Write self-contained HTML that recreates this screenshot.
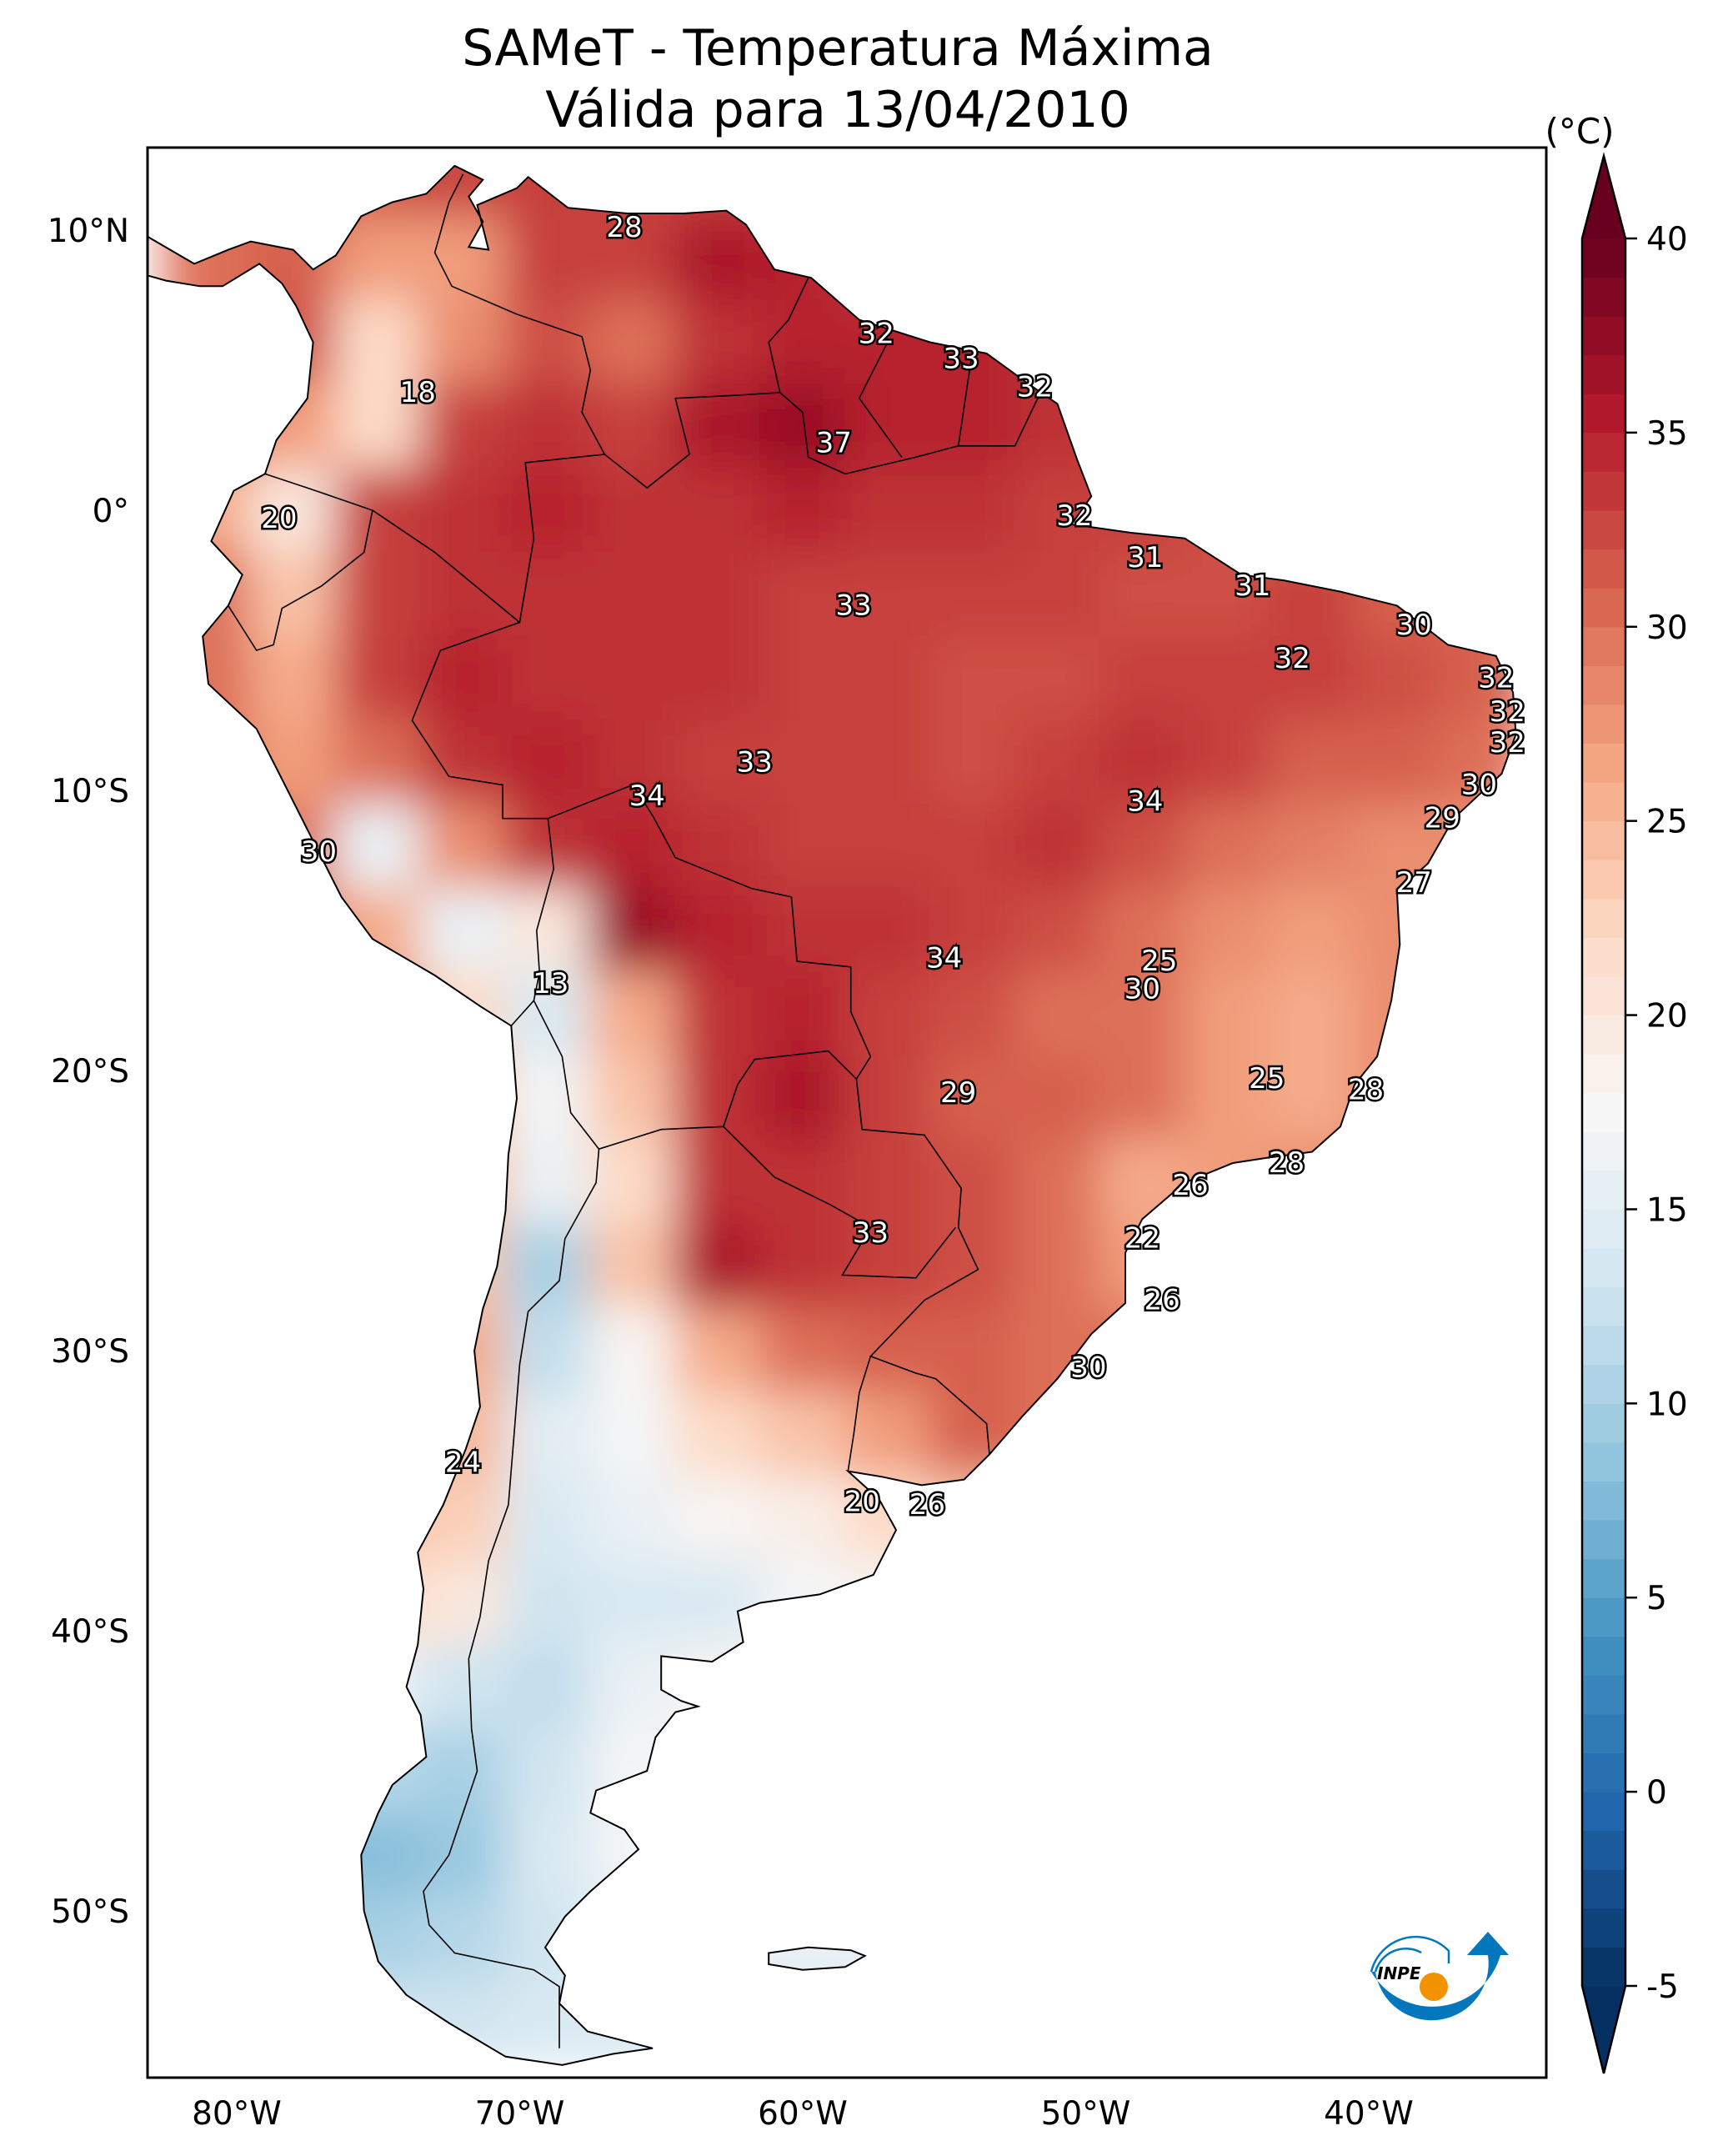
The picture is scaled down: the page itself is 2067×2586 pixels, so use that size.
<!DOCTYPE html>
<html><head><meta charset="utf-8"><style>
html,body{margin:0;padding:0;background:#fff}
svg{display:block}
text{font-family:"DejaVu Sans","Liberation Sans",sans-serif}
.lbl{font-size:34px;fill:#fff;stroke:#000;stroke-width:5px;paint-order:stroke;text-anchor:middle;dominant-baseline:central}
.tick{font-size:39px;fill:#000}
</style></head><body>
<svg id="chart" width="2067" height="2586" viewBox="0 0 2067 2586" xmlns="http://www.w3.org/2000/svg">
<defs>
<filter id="blur" x="-20%" y="-20%" width="140%" height="140%"><feGaussianBlur stdDeviation="28"/></filter>
<clipPath id="land"><path id="landPath" d=""/></clipPath>
<clipPath id="frame"><rect x="177" y="177" width="1678" height="2315"/></clipPath>
</defs>
<text x="1005" y="78" font-size="60" text-anchor="middle">SAMeT - Temperatura Máxima</text>
<text x="1005" y="152" font-size="60" text-anchor="middle">Válida para 13/04/2010</text>
<g id="mapArea" clip-path="url(#frame)">
  <g clip-path="url(#land)"><g id="heat" filter="url(#blur)"></g></g>
  <path id="coast" fill="none" stroke="#000" stroke-width="2"/>
  <g id="borders" fill="none" stroke="#000" stroke-width="1.6"></g>
  <g id="labels"></g>
</g>
<rect x="177" y="177" width="1678" height="2315" fill="none" stroke="#000" stroke-width="3"/>
<g id="axes"></g>
<g id="logo">
  <path d="M1645,2365 A85,85 0 0 0 1800,2345 L1785,2345 A65,65 0 0 1 1650,2365 Z" fill="#0277bd"/>
  <path d="M1760,2345 L1785,2317 L1810,2345 Z" fill="#0277bd"/>
  <path d="M1645,2365 A55,55 0 0 1 1738,2340 L1738,2355" fill="none" stroke="#0277bd" stroke-width="2.5"/>
  <path d="M1650,2365 A38,38 0 0 1 1705,2342" fill="none" stroke="#0277bd" stroke-width="2.5"/>
  <circle cx="1720" cy="2383" r="17" fill="#f39200"/>
  <text x="1652" y="2374" font-size="20" font-style="italic" font-weight="bold">INPE</text>
</g>
<g id="colorbar"></g>
<text x="1895" y="172" font-size="42" text-anchor="middle">(°C)</text>
</svg>
<script>
const lons=[-81,-78,-75,-72,-69,-66,-63,-60,-57,-54,-51,-48,-45,-42,-39,-36];
const lats=[12,9,6,3,0,-3,-6,-9,-12,-15,-18,-21,-24,-27,-30,-33,-36,-39,-42,-45,-48,-51,-54];
const temps=[
[30,30,32,33,33,33,33,33,33,33,33,33,33,33,33,33],
[30,31,27,27,33,33,36,35,33,33,33,33,33,33,33,33],
[30,32,22,28,32,30,34,35,35,35,34,33,33,33,33,33],
[30,27,22,33,34,33,36,37,35,35,34,33,33,33,33,33],
[26,20,33,34,35,34,34,35,34,34,33,33,32,31,31,31],
[30,24,33,34,34,34,34,33,33,33,33,32,32,33,31,31],
[30,26,33,35,34,34,34,33,33,32,32,33,33,33,32,31],
[30,27,30,34,35,34,33,33,33,32,33,34,33,31,31,30],
[30,30,16,28,34,35,34,33,33,33,34,32,30,29,28,28],
[30,30,26,16,20,37,35,34,34,33,32,30,28,27,28,28],
[28,28,28,22,14,26,34,35,33,32,30,30,27,26,28,28],
[26,26,26,24,17,24,34,36,33,31,31,30,27,26,28,28],
[25,25,25,25,16,22,34,34,33,32,30,26,27,28,28,28],
[25,25,25,24,10,24,36,34,33,32,30,27,27,27,27,27],
[26,26,26,26,12,18,26,30,31,31,30,30,30,30,30,30],
[25,25,25,25,15,17,22,24,27,31,30,30,30,30,30,30],
[24,24,24,23,14,16,18,19,22,24,24,24,24,24,24,24],
[22,22,22,20,13,14,14,17,18,18,18,18,18,18,18,18],
[16,16,16,13,12,16,18,18,18,18,18,18,18,18,18,18],
[11,11,11,10,13,17,17,17,17,17,17,17,17,17,17,17],
[8,8,8,9,14,17,17,17,17,17,17,17,17,17,17,17],
[10,10,10,11,13,16,16,16,16,16,16,16,16,16,16,16],
[13,13,13,13,14,14,14,14,14,14,14,14,14,14,14,14]];
const lonTicks=[-80,-70,-60,-50,-40];
const lonTickLabels=["80°W","70°W","60°W","50°W","40°W"];
const latTicks=[10,0,-10,-20,-30,-40,-50];
const latTickLabels=["10°N","0°","10°S","20°S","30°S","40°S","50°S"];
const cbTicks=[-5,0,5,10,15,20,25,30,35,40];
const labelVals=[28,32,33,32,18,37,20,32,31,33,31,30,32,32,32,32,33,34,34,30,29,30,27,25,34,30,13,25,28,29,28,26,33,22,26,30,24,20,26];
const labelLon=[-66.3,-57.4,-54.4,-51.8,-73.6,-58.9,-78.5,-50.4,-47.9,-58.2,-44.1,-38.4,-42.7,-35.5,-35.1,-35.1,-61.7,-65.5,-47.9,-36.1,-37.4,-77.1,-38.4,-47.4,-55,-48,-68.9,-43.6,-40.1,-54.5,-42.9,-46.3,-57.6,-48,-47.3,-49.9,-72,-57.9,-55.6];
const labelLat=[10.1,6.3,5.4,4.4,4.2,2.4,-0.3,-0.2,-1.7,-3.4,-2.7,-4.1,-5.3,-6,-7.2,-8.3,-9,-10.2,-10.4,-9.8,-11,-12.2,-13.3,-16.1,-16,-17.1,-16.9,-20.3,-20.7,-20.8,-23.3,-24.1,-25.8,-26,-28.2,-30.6,-34,-35.4,-35.5];
const coast=[[-83.2,9.8],[-81.5,8.8],[-80.3,9.3],[-79.5,9.6],[-78,9.3],[-77.3,8.6],[-76.5,9.1],[-75.6,10.5],[-74.5,11],[-73.3,11.3],[-72.3,12.3],[-71.3,11.8],[-71.8,11.2],[-71.3,10.3],[-71.8,9.4],[-71.1,9.3],[-71.5,10.9],[-70.1,11.5],[-69.7,11.9],[-68.3,10.8],[-66.2,10.6],[-64.2,10.6],[-62.7,10.7],[-62,10.2],[-61,8.6],[-59.7,8.3],[-58,6.8],[-55.5,6],[-53.5,5.6],[-52,4.5],[-51,3.8],[-50.3,1.8],[-49.8,0.5],[-50.5,-0.5],[-48.4,-0.8],[-46.5,-1],[-44.5,-2.3],[-43,-2.5],[-41,-2.9],[-39,-3.4],[-37.2,-4.8],[-35.5,-5.2],[-34.9,-6.5],[-34.8,-8],[-35.3,-9.4],[-37,-11],[-37.9,-12.6],[-39,-13.6],[-38.9,-15.5],[-39.2,-17.5],[-39.7,-19.5],[-40.5,-20.5],[-41,-22],[-42,-22.9],[-43.5,-23.1],[-44.8,-23.3],[-46.5,-24],[-48,-25.3],[-48.6,-26.5],[-48.6,-28.3],[-49.8,-29.4],[-51,-31],[-52.2,-32.3],[-53.4,-33.7],[-54.3,-34.6],[-55.8,-34.8],[-57.2,-34.5],[-58.4,-34.3],[-57.3,-35.3],[-56.7,-36.4],[-57.5,-38],[-59.4,-38.7],[-61.5,-39],[-62.3,-39.3],[-62.1,-40.4],[-63.2,-41.1],[-65,-40.9],[-65,-42.1],[-64.3,-42.5],[-63.7,-42.7],[-64.5,-42.9],[-65.2,-43.8],[-65.5,-45],[-67.3,-45.7],[-67.5,-46.5],[-66.3,-47.1],[-65.8,-47.8],[-67.5,-49.3],[-68.4,-50.2],[-69.1,-51.3],[-68.4,-52.3],[-68.6,-53.3],[-67.6,-54.3],[-65.3,-54.9],[-66.7,-55.1],[-68.5,-55.5],[-70.5,-55.2],[-72.5,-54],[-74,-53],[-75,-51.8],[-75.5,-50],[-75.6,-48],[-75,-46.5],[-74.5,-45.5],[-73.3,-44.5],[-73.5,-43],[-74,-42],[-73.6,-40.5],[-73.4,-38.5],[-73.6,-37.2],[-72.7,-35.5],[-71.9,-33.5],[-71.4,-32],[-71.6,-30],[-71.3,-28.5],[-70.8,-27],[-70.5,-25],[-70.4,-23],[-70.1,-21],[-70.3,-18.4],[-71.4,-17.7],[-73,-16.6],[-75.2,-15.3],[-76.3,-13.8],[-77.2,-12],[-78.2,-10],[-79.3,-7.8],[-81,-6.2],[-81.2,-4.5],[-80.3,-3.4],[-79.8,-2.3],[-80.9,-1.1],[-80.1,0.7],[-79,1.3],[-78.6,2.5],[-77.5,4],[-77.3,6],[-77.9,7.3],[-78.4,8.1],[-79.2,8.8],[-80.5,8],[-81.3,8],[-82.5,8.2],[-83.2,8.4]];
const falk=[[-61.2,-51.5],[-59.8,-51.3],[-58.3,-51.4],[-57.8,-51.6],[-58.5,-52],[-60,-52.1],[-61.2,-51.9]];
const borderLines=[
[[-51.6,4.2],[-52.5,2.3],[-54.5,2.3],[-56,1.9],[-58.5,1.3],[-59.8,1.9],[-60,3.5],[-60.8,4.2],[-62.5,4.1],[-64.5,4],[-64,2],[-65.5,0.8],[-67,2],[-69.8,1.7],[-69.5,-1],[-70,-4],[-72.8,-5],[-73.8,-7.5],[-72.5,-9.5],[-70.6,-9.8],[-70.6,-11],[-69,-11],[-66,-9.8],[-65.3,-10.9],[-64.5,-12.4],[-61.8,-13.5],[-60.4,-13.8],[-60.2,-16.1],[-58.3,-16.3],[-58.3,-17.9],[-57.6,-19.5],[-58.1,-20.3],[-57.9,-22.1],[-55.7,-22.3],[-54.4,-24.2],[-54.5,-25.6],[-53.8,-27.1],[-55.7,-28.2],[-57.6,-30.2],[-56,-30.8],[-55.3,-31],[-53.5,-32.6],[-53.4,-33.7]],
[[-59.8,8.3],[-60.5,6.8],[-61.2,6],[-60.8,4.2]],
[[-57,6],[-58,4],[-56.5,1.9]],
[[-54,5.7],[-54.5,2.3]],
[[-72,12],[-72.5,11],[-73,9.2],[-72.4,8],[-70.1,7],[-67.8,6.2],[-67.5,5],[-67.8,3.5],[-67,2]],
[[-79,1.3],[-77.5,0.8],[-75.2,0],[-75.5,-1.5],[-77,-2.7],[-78.4,-3.5],[-78.7,-4.8],[-79.3,-5],[-80.3,-3.4]],
[[-75.2,0],[-73,-1.5],[-70,-4]],
[[-69,-11],[-68.8,-12.8],[-69.4,-15],[-69.3,-16.5],[-69.5,-17.5],[-70.3,-18.4]],
[[-69.5,-17.5],[-68.5,-19.5],[-68.2,-21.5],[-67.2,-22.8],[-67.3,-24],[-68.4,-26],[-68.6,-27.5],[-69.7,-28.6],[-70,-30.5],[-70.2,-33],[-70.4,-35.5],[-71.1,-37.5],[-71.4,-39.5],[-71.8,-41],[-71.7,-43.5],[-71.5,-45],[-72,-46.5],[-72.5,-48],[-73.4,-49.3],[-73.2,-50.5],[-72.3,-51.5],[-69.5,-52.1],[-68.6,-52.7],[-68.6,-54.9]],
[[-67.2,-22.8],[-65,-22.1],[-62.8,-22],[-62.3,-20.5],[-61.7,-19.6],[-59.1,-19.3],[-58.1,-20.3]],
[[-62.8,-22],[-61,-23.8],[-59,-24.8],[-57.6,-25.6],[-58.6,-27.3],[-56,-27.4],[-54.6,-25.6]],
[[-58.4,-34.3],[-58.2,-33],[-58,-31.5],[-57.6,-30.2]]];
(function(){
const X=lon=>177+(lon+83.15)*33.95;
const Y=lat=>177+(12.95-lat)*33.6;
const stops=[[0,[5,48,97]],[0.1,[33,102,172]],[0.2,[67,147,195]],[0.3,[146,197,222]],[0.4,[209,229,240]],[0.5,[247,247,247]],[0.6,[253,219,199]],[0.7,[244,165,130]],[0.8,[214,96,77]],[0.9,[178,24,43]],[1,[103,0,31]]];
function color(v){let t=Math.max(0,Math.min(1,(v+5)/45));for(let i=1;i<stops.length;i++){if(t<=stops[i][0]){const a=stops[i-1],b=stops[i];const f=(t-a[0])/(b[0]-a[0]);const c=a[1].map((x,k)=>Math.round(x+(b[1][k]-x)*f));return 'rgb('+c.join(',')+')';}}return 'rgb(103,0,31)';}
const NS='http://www.w3.org/2000/svg';
function mk(tag,attrs,parent){const e=document.createElementNS(NS,tag);for(const k in attrs)e.setAttribute(k,attrs[k]);parent.appendChild(e);return e;}
const toPath=pts=>'M'+pts.map(p=>X(p[0]).toFixed(1)+','+Y(p[1]).toFixed(1)).join('L');
const landD=toPath(coast)+'Z'+toPath(falk)+'Z';
document.getElementById('landPath').setAttribute('d',landD);
document.getElementById('coast').setAttribute('d',landD);
const heat=document.getElementById('heat');
const w=3*33.95,h=3*33.6;
lats.forEach((la,i)=>lons.forEach((lo,j)=>{
  const r=mk('rect',{x:X(lo)-w/2-1,y:Y(la)-h/2-1,width:w+2,height:h+2,fill:color(temps[i][j])},heat);
  
  
}));
const bgp=document.getElementById('borders');
borderLines.forEach(l=>{const p=mk('path',{d:toPath(l)},bgp);
  
  });
const lgp=document.getElementById('labels');
labelVals.forEach((v,i)=>{const t=mk('text',{x:X(labelLon[i]),y:Y(labelLat[i]),class:'lbl'},lgp);t.textContent=v;
  
  });
const ax=document.getElementById('axes');
lonTicks.forEach((lo,i)=>{const t=mk('text',{x:X(lo),y:2548,class:'tick','text-anchor':'middle'},ax);t.textContent=lonTickLabels[i];
  
  });
latTicks.forEach((la,i)=>{const t=mk('text',{x:155,y:Y(la)+14,class:'tick','text-anchor':'end'},ax);t.textContent=latTickLabels[i];
  
  });
const cb=document.getElementById('colorbar');
const cbY=v=>2382-(v+5)/45*2096;
const cx0=1898,cx1=1950,cxm=(cx0+cx1)/2;
for(let v=-5;v<40;v+=1){const r=mk('rect',{x:cx0,y:cbY(v+1)-0.5,width:cx1-cx0,height:cbY(v)-cbY(v+1)+1,fill:color(v+0.5)},cb);
  
  }
const upTri=mk('path',{d:'M'+cx0+','+cbY(40)+'L'+cxm+',187L'+cx1+','+cbY(40)+'Z',fill:color(41)},cb);


const downTri=mk('path',{d:'M'+cx0+','+cbY(-5)+'L'+cxm+',2487L'+cx1+','+cbY(-5)+'Z',fill:color(-6)},cb);


mk('path',{d:'M'+cx0+','+cbY(-5)+'L'+cx0+','+cbY(40)+'L'+cxm+',187L'+cx1+','+cbY(40)+'L'+cx1+','+cbY(-5)+'L'+cxm+',2487Z',fill:'none',stroke:'#000','stroke-width':2.5},cb);
cbTicks.forEach(v=>{mk('line',{x1:cx1,x2:cx1+14,y1:cbY(v),y2:cbY(v),stroke:'#000','stroke-width':2.5},cb);
  const t=mk('text',{x:1975,y:cbY(v)+14,class:'tick'},cb);t.textContent=v;
  
  });
})();
</script>
</body></html>
